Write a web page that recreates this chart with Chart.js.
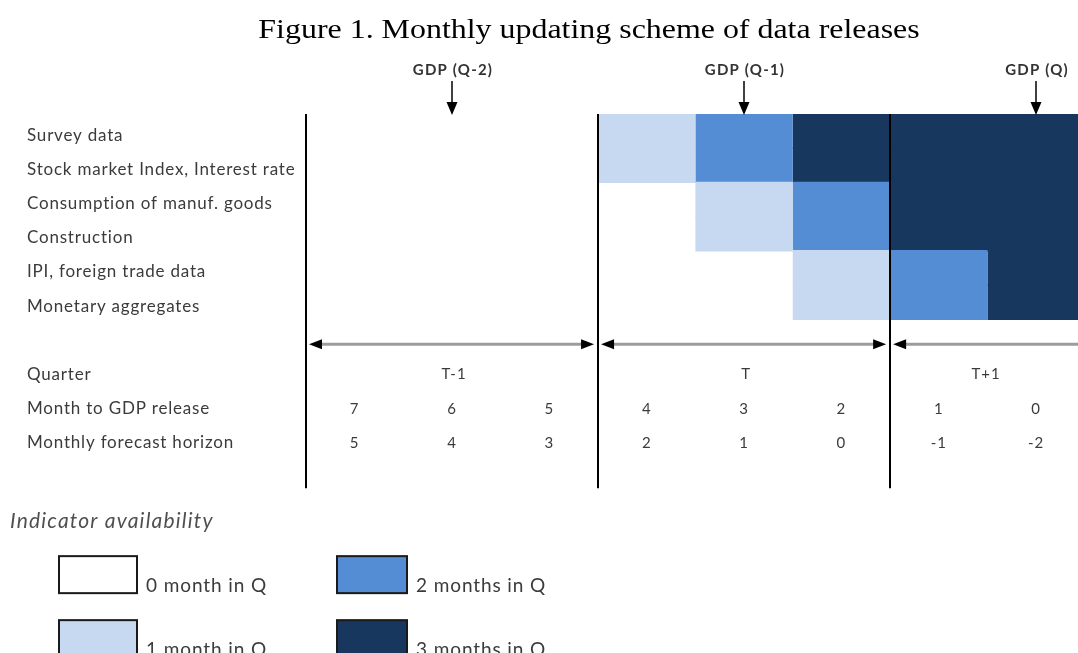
<!DOCTYPE html>
<html>
<head>
<meta charset="utf-8">
<script src="https://cdn.jsdelivr.net/npm/chart.js@4.4.1/dist/chart.umd.min.js"></script>
<style>
  html, body { margin: 0; padding: 0; background: #fff; }
  #wrap { width: 1078px; height: 653px; }
</style>
</head>
<body>
<div id="wrap"><canvas id="scheme" width="1078" height="653"></canvas></div>
<script>
// Monthly updating scheme of data releases

var rowLabels = [
  'Survey data',
  'Stock market Index, Interest rate',
  'Consumption of manuf. goods',
  'Construction',
  'IPI, foreign trade data',
  'Monetary aggregates'
];
var tableLabels = ['Quarter', 'Month to GDP release', 'Monthly forecast horizon'];

// months of the quarter available for each indicator, one value per month column
var availability = [
  [0, 0, 0, 1, 2, 3, 3, 3],
  [0, 0, 0, 1, 2, 3, 3, 3],
  [0, 0, 0, 0, 1, 2, 3, 3],
  [0, 0, 0, 0, 1, 2, 3, 3],
  [0, 0, 0, 0, 0, 1, 2, 3],
  [0, 0, 0, 0, 0, 1, 2, 3]
];
var monthsToRelease = [7, 6, 5, 4, 3, 2, 1, 0];
var forecastHorizon = [5, 4, 3, 2, 1, 0, -1, -2];
var quarterLabels = ['T-1', 'T', 'T+1'];
var gdpLabels = ['GDP (Q-2)', 'GDP (Q-1)', 'GDP (Q)'];
var gdpReleaseMonth = [1, 4, 7];
var levelLabels = ['0 month in Q', '1 month in Q', '2 months in Q', '3 months in Q'];
var levelColors = ['#ffffff', '#c6d9f1', '#548dd4', '#17375e'];

var SANS = 'Lato, "Open Sans", sans-serif';
var TEXT = '#3b3b3b';

// one floating bar per indicator and availability level: [first month, last month + 1]
function buildDatasets() {
  var sets = [];
  for (var lvl = 1; lvl < levelColors.length; lvl++) {
    var data = availability.map(function(row) {
      var first = row.indexOf(lvl);
      if (first < 0) return null;
      var last = row.lastIndexOf(lvl);
      return [first, last + 1];
    });
    sets.push({
      label: levelLabels[lvl],
      data: data,
      backgroundColor: levelColors[lvl],
      borderWidth: 0
    });
  }
  return sets;
}

function arrowHead(ctx, x, y, dir, len, half) {
  ctx.beginPath();
  ctx.moveTo(x, y);
  ctx.lineTo(x - dir * len, y - half);
  ctx.lineTo(x - dir * len, y + half);
  ctx.closePath();
  ctx.fill();
}

function spaced(ctx, px) {
  if ('letterSpacing' in ctx) ctx.letterSpacing = px + 'px';
}

var schemePlugin = {
  id: 'scheme',
  afterDatasetsDraw: function(chart) {
    var ctx = chart.ctx;
    var xs = chart.scales.x;
    var ys = chart.scales.y;
    var area = chart.chartArea;
    var slot = ys.getPixelForValue(1) - ys.getPixelForValue(0);
    var nRows = rowLabels.length;

    ctx.save();

    // title, widened to the Computer Modern proportions of the original
    ctx.save();
    ctx.fillStyle = '#000';
    ctx.font = '28px "Liberation Serif", serif';
    ctx.textAlign = 'center';
    ctx.textBaseline = 'alphabetic';
    ctx.translate(589, 38);
    ctx.scale(1.14, 1);
    ctx.fillText('Figure 1. Monthly updating scheme of data releases', 0, 0);
    ctx.restore();

    // quarter separators
    ctx.strokeStyle = '#000';
    ctx.lineWidth = 2;
    quarterLabels.forEach(function(q, i) {
      var x = Math.round(xs.getPixelForValue(i * 3));
      ctx.beginPath();
      ctx.moveTo(x, area.top);
      ctx.lineTo(x, area.bottom + slot * 0.94);
      ctx.stroke();
    });

    // GDP release markers
    ctx.font = 'bold 15px ' + SANS;
    ctx.textAlign = 'center';
    ctx.textBaseline = 'middle';
    spaced(ctx, 1.2);
    gdpLabels.forEach(function(lab, i) {
      var x = Math.round(xs.getPixelForValue(gdpReleaseMonth[i] + 0.5));
      ctx.fillStyle = '#333';
      ctx.fillText(lab, x + 1, area.top - 44);
      ctx.strokeStyle = '#000';
      ctx.lineWidth = 1.5;
      ctx.beginPath();
      ctx.moveTo(x, area.top - 33);
      ctx.lineTo(x, area.top - 10);
      ctx.stroke();
      ctx.fillStyle = '#000';
      ctx.beginPath();
      ctx.moveTo(x, area.top + 1);
      ctx.lineTo(x - 5.5, area.top - 12);
      ctx.lineTo(x + 5.5, area.top - 12);
      ctx.closePath();
      ctx.fill();
    });

    // row labels
    ctx.font = '17px ' + SANS;
    ctx.fillStyle = TEXT;
    ctx.textAlign = 'left';
    spaced(ctx, 0.8);
    rowLabels.forEach(function(lab, i) {
      ctx.fillText(lab, 27, ys.getPixelForValue(i) + 4);
    });
    tableLabels.forEach(function(lab, i) {
      ctx.fillText(lab, 27, ys.getPixelForValue(nRows + 1 + i) + 4);
    });

    // quarter spans with double arrows
    var yArrow = ys.getPixelForValue(nRows) + 8;
    var yQuarter = ys.getPixelForValue(nRows + 1) + 4;
    spaced(ctx, 1);
    quarterLabels.forEach(function(q, i) {
      var x0 = xs.getPixelForValue(i * 3) + 3;
      var xEnd = xs.getPixelForValue(i * 3 + 3);
      var open = xEnd > area.right;
      var x1 = open ? area.right : xEnd - 4;
      ctx.strokeStyle = '#9c9c9c';
      ctx.lineWidth = 3;
      ctx.beginPath();
      ctx.moveTo(x0 + 10, yArrow);
      ctx.lineTo(open ? x1 : x1 - 10, yArrow);
      ctx.stroke();
      ctx.fillStyle = '#000';
      arrowHead(ctx, x0, yArrow, -1, 13, 5);
      if (!open) arrowHead(ctx, x1, yArrow, 1, 13, 5);

      var mid = xs.getPixelForValue((i * 3 + Math.min(i * 3 + 3, xs.max)) / 2);
      ctx.fillStyle = TEXT;
      ctx.font = '15px ' + SANS;
      ctx.textAlign = 'center';
      ctx.fillText(q, mid + 2, yQuarter);
    });

    // month counters
    ctx.font = '15px ' + SANS;
    ctx.textAlign = 'center';
    ctx.fillStyle = TEXT;
    spaced(ctx, 1);
    monthsToRelease.forEach(function(v, k) {
      ctx.fillText(String(v), xs.getPixelForValue(k + 0.5), ys.getPixelForValue(nRows + 2) + 4);
    });
    forecastHorizon.forEach(function(v, k) {
      ctx.fillText(String(v), xs.getPixelForValue(k + 0.5), ys.getPixelForValue(nRows + 3) + 4);
    });

    // availability legend
    var legTop = area.bottom + slot * 0.94;
    ctx.textAlign = 'left';
    ctx.textBaseline = 'middle';
    ctx.font = 'italic 21px ' + SANS;
    ctx.fillStyle = '#505050';
    spaced(ctx, 1.2);
    ctx.fillText('Indicator availability', 10, legTop + 33);

    var colX = [59, 337];
    var boxW = [78, 70];
    ctx.font = '19px ' + SANS;
    spaced(ctx, 0.9);
    levelLabels.forEach(function(lab, lvl) {
      var c = Math.floor(lvl / 2);
      var r = lvl % 2;
      var bx = colX[c];
      var by = legTop + 68 + r * 64;
      ctx.fillStyle = levelColors[lvl];
      ctx.fillRect(bx, by, boxW[c], 37);
      ctx.strokeStyle = '#1a1a1a';
      ctx.lineWidth = 2;
      ctx.strokeRect(bx, by, boxW[c], 37);
      ctx.fillStyle = TEXT;
      ctx.textBaseline = 'alphabetic';
      ctx.fillText(lab, bx + boxW[c] + 9, by + 36);
    });

    ctx.restore();
  }
};

new Chart(document.getElementById('scheme').getContext('2d'), {
  type: 'bar',
  data: {
    labels: rowLabels.concat([''], tableLabels),
    datasets: buildDatasets()
  },
  options: {
    indexAxis: 'y',
    responsive: false,
    animation: false,
    layout: {
      padding: { left: 306, right: 0, top: 114, bottom: 197 }
    },
    datasets: {
      bar: {
        grouped: false,
        barPercentage: 1.04,
        categoryPercentage: 1
      }
    },
    plugins: {
      legend: { display: false },
      tooltip: { enabled: false }
    },
    scales: {
      x: { type: 'linear', min: 0, max: 7.93, display: false },
      y: { display: false }
    }
  },
  plugins: [schemePlugin]
});
</script>
</body>
</html>
